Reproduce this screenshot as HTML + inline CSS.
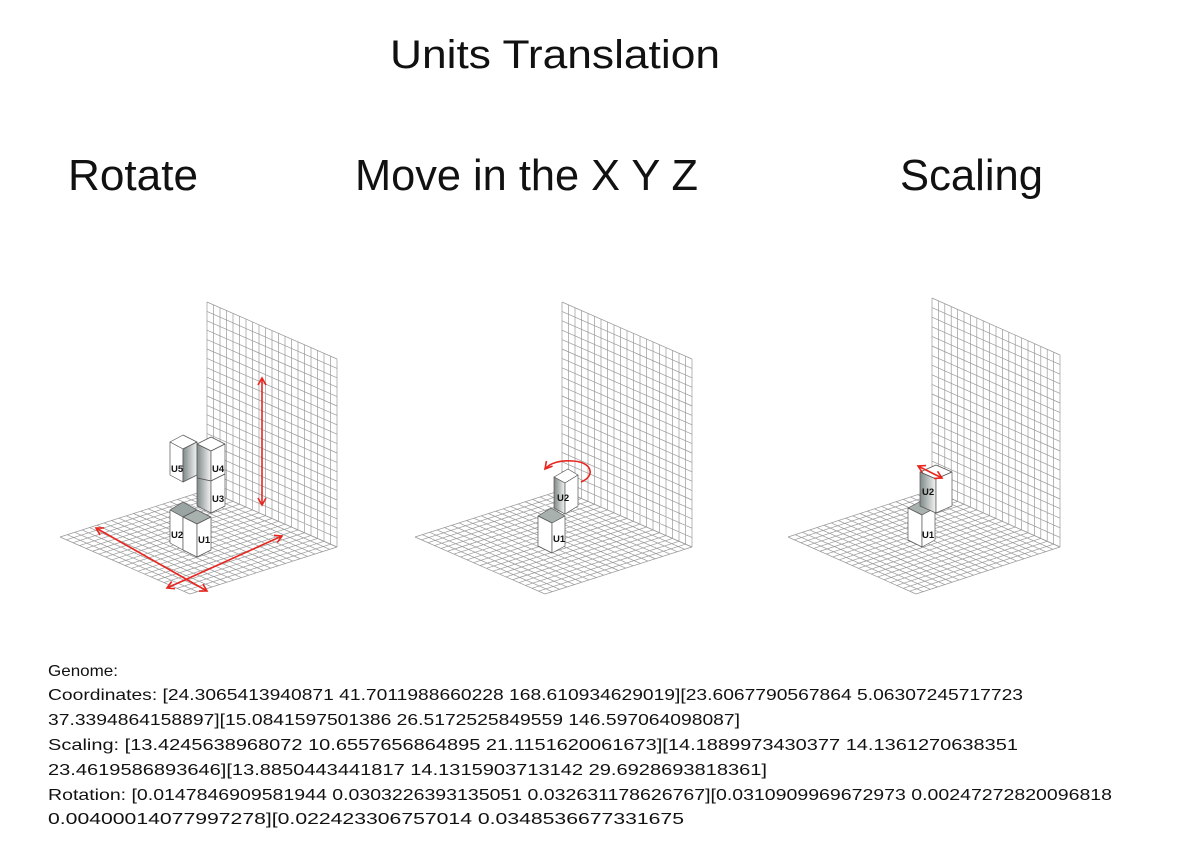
<!DOCTYPE html>
<html><head><meta charset="utf-8"><style>
html,body{margin:0;padding:0;background:#fff;width:1192px;height:842px;overflow:hidden}
svg{display:block}
text{font-family:"Liberation Sans",sans-serif;fill:#111}
</style></head><body>
<svg width="1192" height="842" viewBox="0 0 1192 842" xmlns="http://www.w3.org/2000/svg">
<defs>
<path id="g" fill="none" stroke="#999" stroke-width="0.7" vector-effect="non-scaling-stroke" d="M0 0H20M0 1H20M0 2H20M0 3H20M0 4H20M0 5H20M0 6H20M0 7H20M0 8H20M0 9H20M0 10H20M0 11H20M0 12H20M0 13H20M0 14H20M0 15H20M0 16H20M0 17H20M0 18H20M0 19H20M0 20H20M0 0V20M1 0V20M2 0V20M3 0V20M4 0V20M5 0V20M6 0V20M7 0V20M8 0V20M9 0V20M10 0V20M11 0V20M12 0V20M13 0V20M14 0V20M15 0V20M16 0V20M17 0V20M18 0V20M19 0V20M20 0V20"/>
<linearGradient id="sh" x1="0" x2="1"><stop offset="0" stop-color="#7f8a88"/><stop offset="1" stop-color="#f4f4f4"/></linearGradient>
<marker id="ah" markerWidth="10" markerHeight="10" refX="8" refY="5" orient="auto-start-reverse" markerUnits="userSpaceOnUse"><path d="M1 1L8 5L1 9" fill="none" stroke="#e8261f" stroke-width="1.6"/></marker>
</defs>

<text x="390" y="68" font-size="40" textLength="330" lengthAdjust="spacingAndGlyphs">Units Translation</text>
<text x="68" y="190" font-size="44" textLength="130" lengthAdjust="spacingAndGlyphs">Rotate</text>
<text x="355" y="190" font-size="44" textLength="343" lengthAdjust="spacingAndGlyphs">Move in the X Y Z</text>
<text x="900" y="190" font-size="44" textLength="143" lengthAdjust="spacingAndGlyphs">Scaling</text>

<use href="#g" transform="matrix(6.5,2.85,-7.35,2.35,207,490)"/>
<use href="#g" transform="matrix(6.5,2.85,0,-9.4,207,490)"/>
<use href="#g" transform="matrix(6.5,2.85,-7.35,2.35,562,490)"/>
<use href="#g" transform="matrix(6.5,2.85,0,-9.4,562,490)"/>
<use href="#g" transform="matrix(6.4,2.85,-7.2,2.35,932,490)"/>
<use href="#g" transform="matrix(6.4,2.85,0,-9.6,932,490)"/>

<g stroke="#555" stroke-width="0.7" stroke-linejoin="round">
<polygon points="170,442 183,435 197,442 183,449" fill="#fff"/>
<polygon points="170,442 183,449 183,482 170,475" fill="#fff"/>
<polygon points="183,449 197,442 197,475 183,482" fill="url(#sh)"/>
<polygon points="197,444 211,437 225,444 211,451" fill="#fff"/>
<polygon points="197,444 211,451 211,481 197,478" fill="url(#sh)"/>
<polygon points="211,451 225,444 225,474 211,481" fill="#fff"/>
<polygon points="197,478 211,481 211,513 197,506" fill="url(#sh)"/>
<polygon points="211,481 225,474 225,506 211,513" fill="#fff"/>
<polygon points="170,510 183,502 197,510 183,517" fill="#9aa4a2"/>
<polygon points="170,510 183,517 183,550 170,543" fill="#fff"/>
<polygon points="183,517 197,510 211,517 197,524" fill="#a9b1af"/>
<polygon points="183,517 197,524 197,557 183,550" fill="#fff"/>
<polygon points="197,524 211,517 211,550 197,557" fill="#fff"/>

<polygon points="538,516 551,508 565,516 552,523" fill="#a9b1af"/>
<polygon points="538,516 552,523 552,553 538,546" fill="#fff"/>
<polygon points="552,523 565,516 565,546 552,553" fill="#fff"/>
<polygon points="554,477 568,469 578,475 565,483" fill="#fff"/>
<polygon points="554,477 565,483 565,514 554,508" fill="url(#sh)"/>
<polygon points="565,483 578,475 578,506 565,514" fill="#fff"/>

<polygon points="908,508 921,501 935,508 922,515" fill="#a9b1af"/>
<polygon points="908,508 922,515 922,547 908,540" fill="#fff"/>
<polygon points="922,515 935,508 935,540 922,547" fill="#fff"/>
<polygon points="920,472 936,465 952,472 936,479" fill="#fff"/>
<polygon points="920,472 936,479 936,513 920,506" fill="url(#sh)"/>
<polygon points="936,479 952,472 952,506 936,513" fill="#fff"/>
</g>

<g font-size="9.5" font-weight="bold" fill="#111">
<text x="171" y="472">U5</text>
<text x="212" y="472">U4</text>
<text x="212" y="502">U3</text>
<text x="171" y="538">U2</text>
<text x="198" y="543">U1</text>
<text x="557" y="501">U2</text>
<text x="553" y="542">U1</text>
<text x="922" y="495">U2</text>
<text x="922" y="538">U1</text>
</g>

<g stroke="#e8261f" stroke-width="1.6" fill="none">
<line x1="262" y1="378" x2="262" y2="505" marker-start="url(#ah)" marker-end="url(#ah)"/>
<line x1="96" y1="528" x2="207" y2="591" marker-start="url(#ah)" marker-end="url(#ah)"/>
<line x1="167" y1="588" x2="282" y2="536" marker-start="url(#ah)" marker-end="url(#ah)"/>
<path d="M581 482 C596 476 592 462 573 461 C560 460 550 463 545 469" marker-end="url(#ah)"/>
<line x1="918" y1="466" x2="942" y2="478" marker-start="url(#ah)" marker-end="url(#ah)"/>
</g>

<g font-size="16">
<text x="48" y="676" textLength="70" lengthAdjust="spacingAndGlyphs">Genome:</text>
<text x="48" y="700" textLength="975" lengthAdjust="spacingAndGlyphs">Coordinates: [24.3065413940871 41.7011988660228 168.610934629019][23.6067790567864 5.06307245717723</text>
<text x="48" y="725" textLength="692" lengthAdjust="spacingAndGlyphs">37.3394864158897][15.0841597501386 26.5172525849559 146.597064098087]</text>
<text x="48" y="750" textLength="970" lengthAdjust="spacingAndGlyphs">Scaling: [13.4245638968072 10.6557656864895 21.1151620061673][14.1889973430377 14.1361270638351</text>
<text x="48" y="775" textLength="719" lengthAdjust="spacingAndGlyphs">23.4619586893646][13.8850443441817 14.1315903713142 29.6928693818361]</text>
<text x="48" y="800" textLength="1064" lengthAdjust="spacingAndGlyphs">Rotation: [0.0147846909581944 0.0303226393135051 0.032631178626767][0.0310909969672973 0.00247272820096818</text>
<text x="48" y="824" textLength="636" lengthAdjust="spacingAndGlyphs">0.00400014077997278][0.022423306757014 0.0348536677331675</text>
</g>
</svg>
</body></html>
